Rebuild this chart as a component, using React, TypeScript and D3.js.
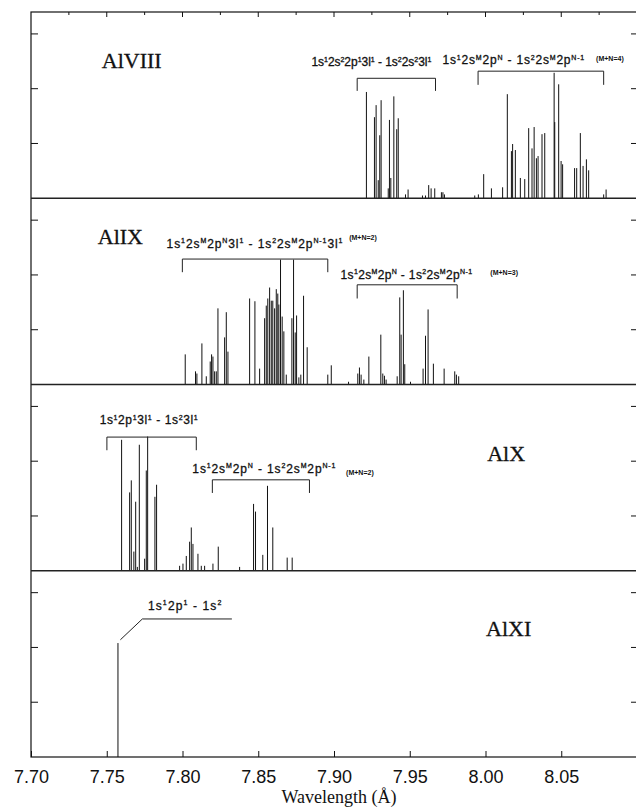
import React, { useEffect, useRef } from 'react';
import * as d3 from 'd3';

// line positions (Angstrom) and relative intensities, one pair of arrays per ion
const wlAlVIII = [7.9214, 7.9267, 7.9278, 7.9292, 7.9302, 7.9311, 7.9358, 7.9366, 7.9375, 7.9395, 7.9414, 7.9424,
	7.9472, 7.9489, 7.9584, 7.9604, 7.9625, 7.9641, 7.9665, 7.9709, 7.9719, 7.9729,
	7.9929, 7.9953, 7.9988, 8.0039, 8.0113, 8.0144, 8.0171, 8.0179, 8.0197, 8.0230, 8.0259, 8.0285, 8.0307,
	8.0321, 8.0336, 8.0347, 8.0373, 8.0391, 8.0453, 8.0457, 8.0483, 8.0499, 8.0509, 8.0588, 8.0602, 8.0626,
	8.0644, 8.0666, 8.0681, 8.0780, 8.0796]
const intAlVIII = [1.94, 1.48, 1.70, 0.33, 1.15, 1.79, 0.18, 1.43, 0.37, 1.86, 1.26, 1.46,
	0.07, 0.16, 0.05, 0.05, 0.24, 0.18, 0.18, 0.11, 0.11, 0.07,
	0.05, 0.07, 0.44, 0.18, 0.20, 1.90, 0.86, 0.99, 0.88, 0.37, 0.35, 1.28, 0.91,
	1.30, 0.73, 0.77, 1.17, 1.19, 2.29, 1.39, 2.08, 0.68, 0.62, 0.55, 0.55, 1.19,
	0.59, 0.71, 0.51, 0.07, 0.16]

const wlAlIX = [7.8018, 7.8086, 7.8095, 7.8128, 7.8157, 7.8183, 7.8192, 7.8201, 7.8212, 7.8223, 7.8234, 7.8278,
	7.8289, 7.8300, 7.8443, 7.8478, 7.8509, 7.8542, 7.8553, 7.8563, 7.8575, 7.8586, 7.8596, 7.8608, 7.8619,
	7.8629, 7.8636, 7.8647, 7.8658, 7.8669, 7.8685, 7.8722, 7.8733, 7.8744, 7.8753, 7.8768, 7.8781, 7.8799,
	7.8823, 7.8959, 7.8982, 7.9096, 7.9157, 7.9168, 7.9179, 7.9197, 7.9230, 7.9309, 7.9322, 7.9333, 7.9344,
	7.9417, 7.9434, 7.9443, 7.9458, 7.9467, 7.9505, 7.9588, 7.9604, 7.9621, 7.9656, 7.9727, 7.9797, 7.9808, 7.9823]
const intAlIX = [0.55, 0.24, 0.20, 0.75, 0.15, 0.42, 0.55, 0.51, 0.24, 0.24, 1.39, 0.86,
	1.32, 0.60, 1.57, 1.52, 0.29, 1.21, 1.44, 1.57, 1.77, 1.53, 1.53, 1.39, 1.74,
	1.66, 1.46, 2.28, 1.24, 0.97, 0.18, 1.21, 2.28, 0.95, 1.26, 0.13, 0.18, 1.62,
	0.68, 0.18, 0.35, 0.05, 0.20, 0.31, 0.18, 0.09, 0.51, 0.91, 0.20, 0.16, 0.09,
	0.15, 1.59, 0.91, 1.72, 0.37, 0.05, 0.29, 0.89, 1.37, 0.38, 0.29, 0.24, 0.18, 0.15]

const wlAlX = [7.7598, 7.7651, 7.7662, 7.7679, 7.7691, 7.7702, 7.7715, 7.7750, 7.7761, 7.7770, 7.7818, 7.7829,
	7.7981, 7.8003, 7.8025, 7.8047, 7.8058, 7.8069, 7.8102, 7.8124, 7.8146, 7.8201, 7.8236, 7.8377,
	7.8469, 7.8482, 7.8530, 7.8561, 7.8596, 7.8691, 7.8724]
const intAlX = [2.39, 1.43, 1.65, 0.35, 1.26, 0.07, 2.30, 0.22, 1.83, 2.45, 1.35, 1.57,
	0.09, 0.13, 0.27, 0.53, 0.79, 0.49, 0.31, 0.09, 0.09, 0.13, 0.44, 0.07,
	1.22, 1.08, 0.29, 1.55, 0.79, 0.24, 0.24]

const wlAlXI = [7.7574]
const intAlXI = [2.08]

const ions = ["AlVIII", "AlIX", "AlX", "AlXI"]
const ionAt = [[7.7467, 2.38], [7.7441, 2.57], [8.0011, 2.01], [8.0004, 2.21]]

const xTicks = [7.70, 7.75, 7.80, 7.85, 7.90, 7.95, 8.00, 8.05]
const topTicks = d3.range(0, 16).map(i => 7.70 + i * 0.025)
const yTicks = [1, 2, 3]

// brackets: panel, from, to, bar height, foot height
const brackets = [
	[0, 7.9153, 7.9670, 2.19, 1.96],
	[0, 7.9951, 8.0780, 2.32, 2.07],
	[1, 7.7999, 7.8959, 2.29, 2.05],
	[1, 7.9153, 7.9813, 1.82, 1.57],
	[2, 7.7501, 7.8091, 2.44, 2.20],
	[2, 7.8197, 7.8838, 1.66, 1.42],
]
const leaderAlXI = [[7.7590, 2.14], [7.7735, 2.52], [7.8326, 2.52]]

// transition labels: panel, text, start and end wavelength, height
const labels = [
	[0, "1s^{1}2s^{2}2p^{1}3l^{1} - 1s^{2}2s^{2}3l^{1}", 7.8851, 7.9643, 2.41],
	[0, "1s^{1}2s^{M}2p^{N} - 1s^{2}2s^{M}2p^{N-1}", 7.9716, 8.0652, 2.45],
	[1, "1s^{1}2s^{M}2p^{N}3l^{1} - 1s^{2}2s^{M}2p^{N-1}3l^{1}", 7.7895, 7.9056, 2.50],
	[1, "1s^{1}2s^{M}2p^{N} - 1s^{2}2s^{M}2p^{N-1}", 7.9043, 7.9912, 1.93],
	[2, "1s^{1}2p^{1}3l^{1} - 1s^{2}3l^{1}", 7.7453, 7.8100, 2.67],
	[2, "1s^{1}2s^{M}2p^{N} - 1s^{2}2s^{M}2p^{N-1}", 7.8065, 7.9010, 1.79],
	[3, "1s^{1}2p^{1} - 1s^{2}", 7.7772, 7.8256, 2.69],
]
const notes = [
	[0, "(M+N=4)", 8.0730, 2.50],
	[1, "(M+N=2)", 7.9100, 2.63],
	[1, "(M+N=3)", 8.0032, 1.99],
	[2, "(M+N=2)", 7.9080, 1.74],
]

const width = 636
const height = 807
const sans = "'Liberation Sans', Arial, sans-serif"
const serif = "'Liberation Serif', 'Times New Roman', serif"

// text with ^{..} superscripts, stretched to run from px0 to px1
function richText(g, str, px0, px1, py) {
	const t = g.append("text").attr("x", px0).attr("y", py)
		.attr("font-family", sans).attr("font-size", 12).attr("fill", "#111")
		.attr("stroke", "#111").attr("stroke-width", 0.3)
	const parts = str.split(/(\^\{[^}]*\})/).filter(s => s.length)
	let up = false
	let n = 0
	parts.forEach(p => {
		if (p.startsWith("^{")) {
			const s = p.slice(2, -1)
			t.append("tspan").attr("font-size", 7).attr("dy", up ? 0 : -4.5).text(s)
			n += s.length
			up = true
		} else {
			t.append("tspan").attr("dy", up ? 4.5 : 0).text(p)
			n += p.length
			up = false
		}
	})
	const natural = t.node().getComputedTextLength()
	if (n > 1) t.attr("letter-spacing", ((px1 - px0) - natural) / (n - 1))
}

export default function App() {
	const ref = useRef(null)

	useEffect(() => {
		const svg = d3.select(ref.current)
		svg.selectAll("*").remove()

		const left = 31, right = 637, top = 12, bottom = 757
		const panelH = (bottom - top) / 4
		const x = d3.scaleLinear().domain([7.70, 8.10]).range([left, right])
		const ys = ions.map((d, i) => d3.scaleLinear().domain([0, 3.4])
			.range([top + (i + 1) * panelH, top + i * panelH]))

		const wls = [wlAlVIII, wlAlIX, wlAlX, wlAlXI]
		const ints = [intAlVIII, intAlIX, intAlX, intAlXI]

		svg.append("rect").attr("width", width).attr("height", height).attr("fill", "#fff")

		// spectra
		ys.forEach((y, i) => {
			svg.append("g")
				.attr("stroke", "#111")
				.attr("stroke-width", 1)
				.selectAll("line")
				.data(d3.range(wls[i].length))
				.join("line")
				.attr("x1", d => x(wls[i][d]))
				.attr("x2", d => x(wls[i][d]))
				.attr("y1", y(0))
				.attr("y2", d => y(ints[i][d]))
		})

		// frame and panel separators
		svg.append("rect")
			.attr("x", left).attr("y", top)
			.attr("width", right - left).attr("height", bottom - top)
			.attr("fill", "none").attr("stroke", "#111").attr("stroke-width", 1.2)
		ys.slice(0, 3).forEach(y => {
			svg.append("line").attr("x1", left).attr("x2", right)
				.attr("y1", y(0)).attr("y2", y(0))
				.attr("stroke", "#222").attr("stroke-width", 1.3)
		})

		// side ticks
		ys.forEach(y => {
			svg.append("g").attr("stroke", "#111")
				.selectAll("line").data(yTicks).join("line")
				.attr("x1", left).attr("x2", left + 7)
				.attr("y1", d => y(d)).attr("y2", d => y(d))
			svg.append("g").attr("stroke", "#111")
				.selectAll("line").data(yTicks).join("line")
				.attr("x1", right - 6).attr("x2", right)
				.attr("y1", d => y(d)).attr("y2", d => y(d))
		})

		// top ticks
		svg.append("g").attr("stroke", "#111")
			.selectAll("line").data(topTicks.slice(1)).join("line")
			.attr("x1", d => x(d)).attr("x2", d => x(d))
			.attr("y1", top).attr("y2", (d, i) => top + (i % 2 === 1 ? 5 : 3))

		// bottom axis
		const xAxis = svg.append("g")
			.attr("transform", "translate(0," + bottom + ")")
			.call(d3.axisBottom(x).tickValues(xTicks).tickSizeInner(-6).tickSizeOuter(0).tickPadding(13)
				.tickFormat(d3.format(".2f")))
		xAxis.select(".domain").remove()
		xAxis.selectAll("line").attr("stroke", "#111")
		xAxis.selectAll("text").attr("font-family", sans).attr("font-size", 18).attr("fill", "#111")

		svg.append("text")
			.attr("x", (left + right) / 2 + 5).attr("y", 802.5)
			.attr("text-anchor", "middle")
			.attr("font-family", serif).attr("font-size", 18).attr("fill", "#111")
			.text("Wavelength (\u00C5)")

		// ion names
		ions.forEach((name, i) => {
			svg.append("text")
				.attr("x", x(ionAt[i][0])).attr("y", ys[i](ionAt[i][1]))
				.attr("font-family", serif).attr("font-size", 22).attr("fill", "#111")
				.attr("stroke", "#111").attr("stroke-width", 0.3)
				.text(name)
		})

		// brackets
		const br = svg.append("g").attr("fill", "none").attr("stroke", "#222").attr("stroke-width", 1)
		brackets.forEach(b => {
			const y = ys[b[0]]
			br.append("path").attr("d", d3.line()([
				[x(b[1]), y(b[4])], [x(b[1]), y(b[3])], [x(b[2]), y(b[3])], [x(b[2]), y(b[4])]
			]))
		})
		br.append("path").attr("d", d3.line()(leaderAlXI.map(p => [x(p[0]), ys[3](p[1])])))

		// transition labels
		labels.forEach(l => richText(svg, l[1], x(l[2]), x(l[3]), ys[l[0]](l[4])))
		notes.forEach(n => {
			svg.append("text")
				.attr("x", x(n[2])).attr("y", ys[n[0]](n[3]))
				.attr("font-family", sans).attr("font-size", 7).attr("font-weight", "bold")
				.attr("fill", "#111")
				.text(n[1])
		})
	}, [])

	return (
		<svg ref={ref} width={width} height={height}
			style={{ position: "absolute", left: 0, top: 0, display: "block" }} />
	)
}
